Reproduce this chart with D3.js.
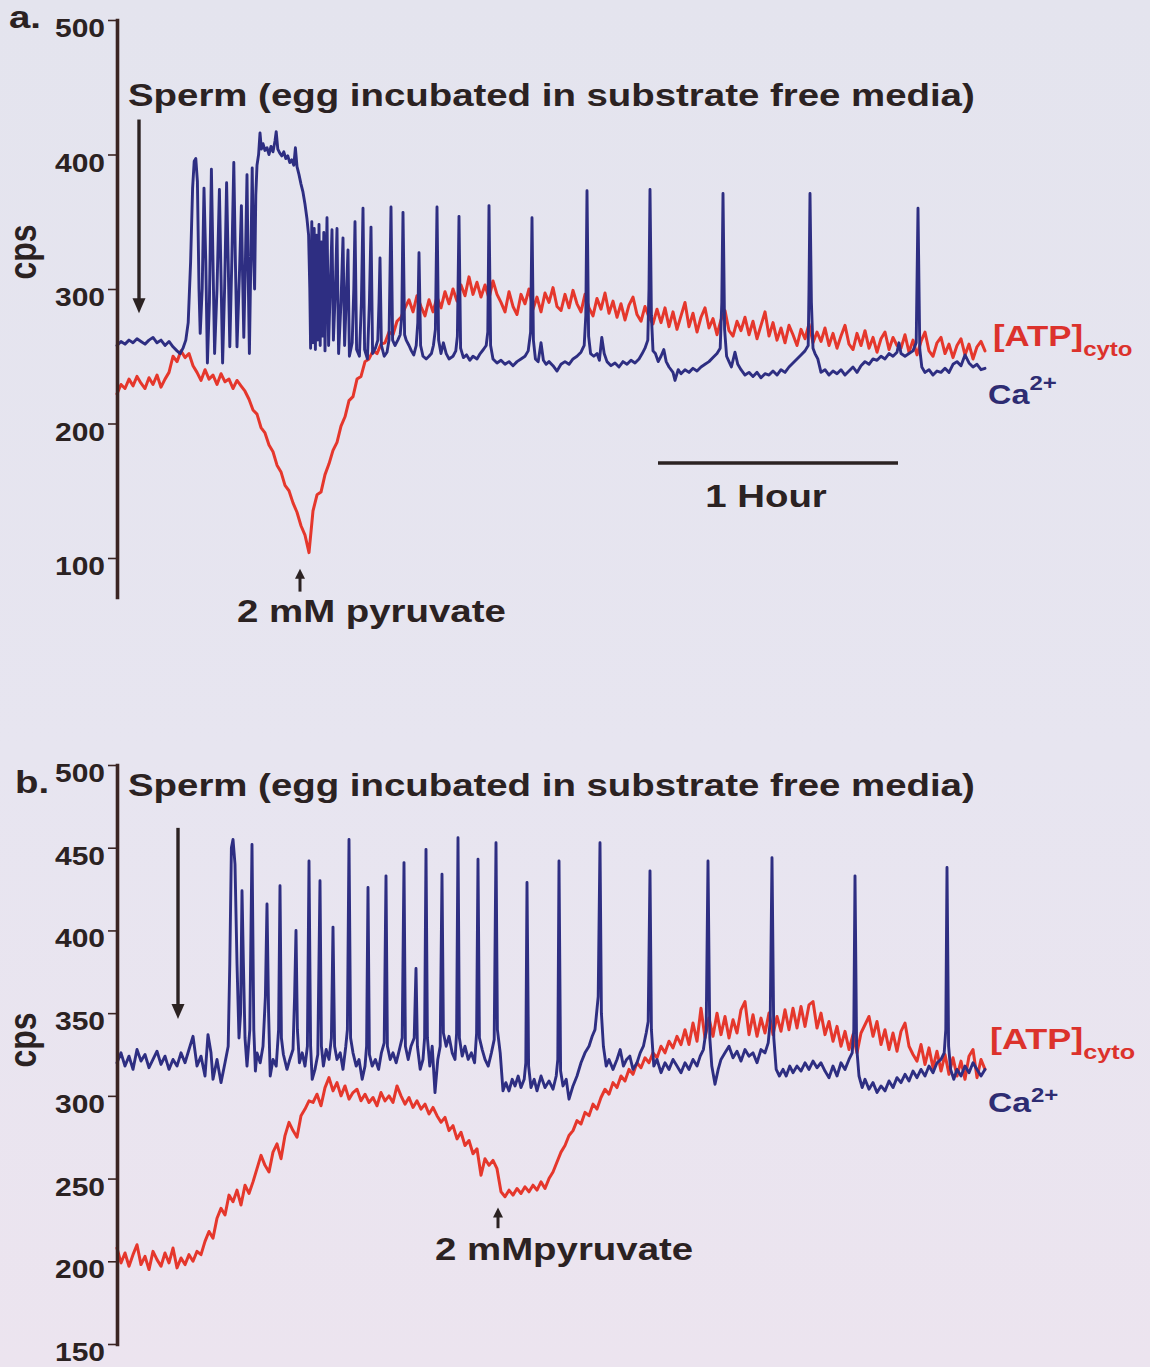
<!DOCTYPE html>
<html>
<head>
<meta charset="utf-8">
<script src="https://cdn.jsdelivr.net/npm/d3@7"></script>
<style>
  html, body { margin: 0; padding: 0; background: #e5e4ef; }
  svg { display: block; }
</style>
</head>
<body>
<svg id="fig" width="1150" height="1367"></svg>
<script>
// ---------------------------------------------------------------
// Luminescence (cps) traces, time in minutes from the start of recording
// ---------------------------------------------------------------

// Panel a: cytosolic ATP, one reading per minute
const atpA = [
  222,229,226,233,228,235,230,226,234,229,236,227,233,
  238,250,246,254,249,252,243,
  238,232,240,233,236,229,237,231,233,226,232,228,
  224,
  218,210,207,197,193,184,179,169,164,154,150,141,134,124,117,
  104,
  135,147,149,162,170,180,186,198,205,217,220,233,235,246,248,254,252,259,260,268,266,276,
  279,286,292,283,295,287,280,292,283,294,286,298,289,300,291,303,295,309,296,305,294,303,293,306,296,
  290,283,298,287,281,296,289,300,285,294,283,297,290,301,287,284,296,286,299,289,
  283,296,286,280,293,285,297,282,291,279,289,277,288,294,281,276,287,279,274,285,
  275,286,272,283,270,280,290,272,282,268,279,286,271,278,266,277,284,269,265,276,
  269,279,266,276,263,273,283,265,275,262,271,260,273,266,258,270,263,274,260,268,
  261,271,258,267,256,265,273,259,255,267,258,269,256,264,253,263,268,255,264,258,
  256,266,253,262,251,261,268,254,250,260,264,252,259,249,258,263,251,259,248,257,261,254
];

// Panel a: Ca2+ as [minute, cps] (denser around each transient)
const caA = [
  [0,258],[1,261],[2,259],[3,262],[4,260],[5,263],[6,261],[7,259],[8,262],[9,264],[10,260],[11,262],
  [12,258],[13,261],[14,257],[15,254],[15.8,252],[16.5,256],[17.2,262],[17.8,275],[18.4,320],[18.9,375],
  [19.3,395],[19.7,397],[20.1,380],[20.5,300],[20.8,267],[21.3,300],[21.75,375],[22.2,320],[22.6,245],
  [23.1,290],[23.6,389],[24,320],[24.4,252],[25,300],[25.6,374],[26,310],[26.4,245],[26.9,300],[27.4,379],
  [27.8,320],[28.2,257],[28.7,320],[29.2,394],[29.6,320],[30,257],[30.6,310],[31.1,362],[31.4,310],
  [31.7,264],[32.1,320],[32.5,385],[32.8,310],[33.1,252],[33.5,330],[33.8,390],[34.1,330],[34.4,300],
  [34.7,370],[35,392],[35.4,400],[35.75,416],[36.1,404],[36.5,408],[37,403],[37.5,405],[38,400],[38.5,406],
  [39,402],[39.5,410],[39.8,417],[40.2,404],[40.7,401],[41.2,399],[41.7,402],[42.2,397],[42.7,399],
  [43.2,394],[43.7,396],[44.2,392],[44.6,405],[45,391],[45.5,385],[46,378],[46.5,372],[47,363],[47.5,352],
  [47.9,340],[48.2,300],[48.4,256],[48.7,350],[49,260],[49.3,345],[49.6,255],[49.9,340],[50.2,262],
  [50.5,348],[50.8,258],[51.1,335],[51.4,265],[51.7,342],[52,254],[52.5,353],[52.9,258],[53.3,300],
  [53.75,344],[54.1,262],[54.6,300],[55,345],[55.4,252],[56,290],[56.5,338],[56.9,258],[57.4,300],
  [57.75,329],[58.1,250],[58.8,260],[59.2,300],[59.5,350],[59.9,255],[60.6,250],[61.1,290],[61.5,360],
  [61.9,255],[62.6,248],[63.1,290],[63.5,346],[63.9,252],[64.6,256],[65.2,262],[65.5,290],[65.75,323],
  [66.1,258],[66.8,250],[67.5,253],[68,262],[68.5,361],[68.9,262],[69.5,258],[70.2,262],[70.8,266],
  [71.2,280],[71.5,357],[71.9,266],[72.3,262],[73,258],[73.6,254],[74.2,251],[74.8,258],[75.2,275],
  [75.5,327],[75.9,258],[76.5,250],[77.3,248],[78,250],[78.6,252],[79.1,258],[79.6,270],[80,361],
  [80.4,262],[81,252],[81.6,260],[82.3,252],[83,248],[84,250],[84.7,254],[85.1,265],[85.5,354],[85.9,256],
  [86.6,249],[87.4,251],[88.2,247],[89,250],[90,248],[90.8,252],[91.6,255],[92.3,258],[92.7,268],[93,362],
  [93.4,258],[94,248],[95,245],[96,247],[97,244],[98,246],[99,243],[100,246],[101,248],[102,250],
  [102.8,254],[103.4,268],[103.75,353],[104.1,262],[104.6,248],[105.3,246],[106,260],[106.6,247],
  [107.3,244],[108,246],[109,243],[110,239],[111,244],[112,246],[113,244],[114,248],[115,250],[116,253],
  [116.8,258],[117.2,280],[117.5,373],[117.9,265],[118.4,252],[119.2,250],[120,252],[120.6,247],
  [121.2,264],[121.8,252],[122.5,246],[123.5,243],[124.5,245],[125.5,242],[126.5,246],[127.5,244],
  [128.5,247],[129.5,245],[130.5,248],[131.3,252],[132,256],[132.7,262],[133,300],[133.25,374],
  [133.6,280],[134,254],[134.6,252],[135.3,246],[136,250],[136.7,255],[137.3,246],[138,242],[139,238],
  [139.5,232],[140.3,240],[141,237],[142,240],[143,238],[144,241],[145,239],[146,242],[147,244],[148,246],
  [149,249],[150,252],[150.8,256],[151.2,290],[151.5,371],[151.9,270],[152.4,250],[153,246],[153.6,242],
  [154.5,253],[155.2,244],[156,240],[157,236],[158,238],[159,235],[160,238],[161,234],[162,237],[163,236],
  [164,239],[165,236],[166,240],[167,238],[168,242],[169,245],[170,248],[171,251],[172,254],[172.8,258],
  [173,300],[173.25,371],[173.6,290],[174,256],[174.5,252],[175.2,248],[176,238],[177,240],[178,236],
  [179,239],[180,237],[181,240],[182,236],[183,239],[184,242],[185,238],[186,243],[187,246],[188,244],
  [189,248],[190,247],[191,250],[192,248],[193,252],[194,250],[195,253],[195.5,260],[196,252],[197,250],
  [198,252],[199,254],[199.8,260],[200.25,360],[200.7,255],[201.2,242],[202,238],[203,240],[204,236],
  [205,239],[206,238],[207,241],[208,238],[209,244],[210,246],[211,243],[212,251],[213,245],[214,242],
  [215,244],[216,240],[217,241]
];

// Panel b: cytosolic ATP, one reading per minute
const atpB = [
  208,199,205,197,204,210,198,203,195,206,201,197,205,199,208,196,202,198,204,
  200,206,204,212,218,214,226,232,228,240,236,243,234,246,241,248,256,264,258,254,
  266,271,262,276,284,279,275,288,292,297,
  296,301,294,305,311,303,308,300,306,298,302,304,297,301,296,299,294,302,297,300,
  296,306,300,295,299,293,297,292,295,289,293,288,
  284,287,279,282,274,278,270,273,265,268,252,262,258,261,256,242,239,243,240,244,
  241,245,242,246,243,248,244,250,254,260,266,
  270,276,279,285,283,290,288,295,292,299,304,301,308,305,312,309,316,313,320,317,
  323,320,326,323,330,326,333,329,336,331,
  340,331,344,333,353,335,347,336,350,337,
  348,335,346,338,352,357,337,349,336,347,
  338,350,337,348,339,352,340,353,341,354,
  342,355,357,341,350,337,345,333,342,330,
  339,328,337,326,338,343,348,336,345,331,
  340,328,338,327,339,344,330,325,321,331,
  319,329,317,327,315,325,313,323,312,321,
  310,324,328,311,322,316
];

// Panel b: Ca2+ as [minute, cps]
const caB = [
  [0,320],[1,326],[2,318],[3,324],[4,316],[5,328],[6,321],[7,325],[8,317],[9,322],[10,327],[11,319],
  [12,324],[13,316],[14,322],[15,318],[16,326],[17,320],[18,328],[19,336],[20,318],[21,324],[22,312],
  [22.75,337],[23.5,326],[24,310],[25,322],[26,308],[27,320],[27.8,330],
  [28.2,380],[28.6,450],[29,455],[29.5,440],[30,380],[30.5,335],[30.9,350],[31.25,424],[31.6,380],
  [32,335],[32.5,318],[33.2,340],[33.75,452],[34.2,340],[34.6,315],[35,326],[35.8,320],[36.5,330],
  [37.1,360],[37.5,416],[37.9,350],[38.3,312],[39,322],[39.8,318],[40.4,340],[40.75,427],[41.1,335],
  [41.6,325],[42.5,316],[43.2,322],[44,328],[44.4,360],[44.75,400],[45.1,340],[45.6,320],[46.3,326],
  [47,318],[47.6,330],[48,442],[48.4,330],[48.8,310],[49.5,316],[50.2,325],[50.75,430],[51.1,330],
  [51.6,318],[52.3,328],[53,322],[53.6,335],[54,402],[54.4,330],[55,322],[55.8,326],[56.5,316],
  [57.2,330],[57.6,340],[58,455],[58.4,335],[59,326],[59.8,318],[60.5,322],[61.3,310],[62,318],
  [62.4,330],[62.75,426],[63.1,325],[63.8,318],[64.6,322],[65.4,316],[66.1,326],[66.8,332],[67.25,433],
  [67.6,330],[68.3,322],[69,326],[69.8,320],[70.6,328],[71.3,335],[71.75,441],[72.1,330],[72.8,322],
  [73.5,330],[74.3,335],[74.75,377],[75.1,330],[75.8,316],[76.5,322],[76.9,335],[77.25,449],[77.6,335],
  [78.2,318],[78.8,330],[79.5,302],[80.2,322],[80.8,330],[81.25,434],[81.6,338],[82.3,330],[83,336],
  [83.8,326],[84.5,322],[84.9,338],[85.25,456],[85.6,335],[86.3,324],[87,330],[87.8,322],[88.6,326],
  [89.4,320],[89.9,338],[90.25,443],[90.6,335],[91.3,328],[92,322],[92.8,318],[93.6,326],[94.3,334],
  [94.75,453],[95.1,340],[95.8,326],[96.5,303],[97.2,308],[98,303],[98.8,310],[99.5,306],[100.3,312],
  [101,305],[101.8,310],[102.2,320],[102.5,429],[102.9,318],[103.5,305],[104.3,310],[105,303],[106,312],
  [107,305],[108,309],[109,304],[109.8,312],[110.2,322],[110.5,442],[110.9,315],[111.5,306],[112.3,310],
  [113,298],[114,306],[115,312],[116,320],[117,326],[118,330],[118.8,336],[119.5,340],[120.3,360],
  [120.75,453],[121.1,350],[121.6,330],[122.3,318],[123,322],[124,316],[125,322],[125.8,328],[126.6,318],
  [127.4,322],[128.2,324],[129,316],[130,320],[130.8,326],[131.6,330],[132.3,338],[132.8,345],
  [133.25,436],[133.6,340],[134.2,318],[135,322],[136,314],[137,320],[138,316],[139,322],[140,318],
  [141,314],[142,320],[143,316],[144,322],[145,318],[145.8,324],[146.6,328],[147.3,340],[147.75,442],
  [148.2,335],[148.7,318],[149.5,307],[150.3,316],[151,322],[152,326],[153,330],[154,323],[155,327],
  [156,321],[157,328],[158,324],[159,326],[160,320],[161,328],[162,326],[162.8,332],[163.3,345],
  [163.75,444],[164.2,335],[164.8,316],[165.6,312],[166.5,316],[167.3,312],[168.2,318],[169,314],
  [170,318],[171,315],[172,320],[173,316],[174,321],[175,317],[176,320],[177,315],[178,311],[179,318],
  [180,312],[181,320],[182,316],[183,322],[183.8,326],[184.2,340],[184.5,433],[184.9,330],[185.5,312],
  [186.3,305],[187,310],[188,304],[189,308],[190,302],[191,306],[192,303],[193,309],[194,305],[195,311],
  [196,308],[197,313],[198,309],[199,315],[200,311],[201,316],[202,312],[203,318],[204,314],[205,320],
  [206,322],[206.8,326],[207.2,340],[207.5,438],[207.9,330],[208.4,316],[209.2,310],[210,316],[211,312],
  [212,318],[213,314],[214,320],[215,316],[216,312],[217,316]
];

// Axis tick values
const ticksA = [100, 200, 300, 400, 500];
const ticksB = [150, 200, 250, 300, 350, 400, 450, 500];

// Text
const titleText = "Sperm (egg incubated in substrate free media)";
const yLabel = "cps";
const scaleBarText = "1 Hour";
const scaleBarMinutes = 60;

// ---------------------------------------------------------------
// Drawing
// ---------------------------------------------------------------
const FONT = '"Liberation Sans", Arial, Helvetica, sans-serif';
const SX = 1.2;                // lettering is set slightly wide
const INK = "#2b2222";
const RED = "#e5372c";
const BLUE = "#2e2e82";
const RED_LABEL = "#dc322c";
const BLUE_LABEL = "#2e2c72";

const svg = d3.select("#fig");
const defs = svg.append("defs");
const grad = defs.append("linearGradient").attr("id", "paper")
  .attr("x1", 0).attr("y1", 0).attr("x2", 0).attr("y2", 1);
grad.append("stop").attr("offset", "0%").attr("stop-color", "#e4e4ee");
grad.append("stop").attr("offset", "55%").attr("stop-color", "#e7e5f0");
grad.append("stop").attr("offset", "100%").attr("stop-color", "#ece4ef");
svg.append("rect").attr("width", 1150).attr("height", 1367).attr("fill", "url(#paper)");

const x = d3.scaleLinear().domain([0, 217]).range([117, 985]);

// wide-set text helper: anchor point (px, py), horizontal stretch SX
function label(parent, px, py, size, anchor, fill) {
  const g = parent.append("g").attr("transform", `translate(${px},${py}) scale(${SX},1)`);
  return g.append("text")
    .attr("font-family", FONT).attr("font-weight", "bold")
    .attr("font-size", size).attr("text-anchor", anchor).attr("fill", fill);
}

function arrow(parent, px, y1, y2, width, head, halfW) {
  // shaft from y1 to the tip at y2
  const dir = Math.sign(y2 - y1);
  parent.append("line")
    .attr("x1", px).attr("x2", px).attr("y1", y1).attr("y2", y2 - dir * head * 0.8)
    .attr("stroke", INK).attr("stroke-width", width);
  parent.append("path")
    .attr("d", `M${px},${y2} L${px - halfW},${y2 - dir * head} L${px + halfW},${y2 - dir * head} Z`)
    .attr("fill", INK);
}

const panels = [
  {
    letter: "a.", letterPos: [9, 28], ticks: ticksA,
    yDomain: [71, 500], yRange: [597, 20],
    atp: atpA, ca: caA,
    titlePos: [128, 106], cpsPos: [36, 252],
    sperm: { t: 5.5, from: 426, to: 282 },
    pyr: { t: 45.75, from: 75, to: 92, text: "2 mM pyruvate", pos: [237, 622] },
    atpLabel: [993, 346, 29, 20, 10], caLabel: [988, 404, 27, 20, -14],
    scaleBar: { t0: 135.25, v: 170.6, text: [766, 507] }
  },
  {
    letter: "b.", letterPos: [15, 793], ticks: ticksB,
    yDomain: [150, 500], yRange: [1344, 765],
    atp: atpB, ca: caB,
    titlePos: [128, 796], cpsPos: [36, 1040],
    sperm: { t: 15.25, from: 462, to: 346.5 },
    pyr: { t: 95.25, from: 220, to: 232.5, text: "2 mMpyruvate", pos: [435, 1260] },
    atpLabel: [990, 1049, 30, 21, 10], caLabel: [988, 1112, 28, 20, -10],
    scaleBar: null
  }
];

panels.forEach(p => {
  const g = svg.append("g");
  const y = d3.scaleLinear().domain(p.yDomain).range(p.yRange);

  // traces: ATP beneath, Ca2+ on top
  const line = d3.line().x(d => x(d[0])).y(d => y(d[1]));
  g.append("path")
    .datum(p.atp.map((v, i) => [i, v]))
    .attr("d", line).attr("fill", "none")
    .attr("stroke", RED).attr("stroke-width", 3)
    .attr("stroke-linejoin", "round").attr("stroke-linecap", "round");
  g.append("path")
    .datum(p.ca)
    .attr("d", line).attr("fill", "none")
    .attr("stroke", BLUE).attr("stroke-width", 2.9)
    .attr("stroke-linejoin", "round").attr("stroke-linecap", "round");

  // y axis
  const axis = d3.axisLeft(y).tickValues(p.ticks).tickSize(9).tickSizeOuter(0)
    .tickFormat(d3.format("d"));
  const ag = g.append("g").attr("transform", "translate(117,0)").call(axis);
  ag.attr("font-family", FONT).attr("font-size", 25).attr("font-weight", "bold");
  ag.select(".domain").attr("stroke", "#3a2422").attr("stroke-width", 3.6)
    .attr("stroke-linecap", "square");
  ag.selectAll(".tick line").attr("stroke", "#3a2422").attr("stroke-width", 1.6);
  ag.selectAll(".tick text")
    .attr("fill", INK).attr("x", -12 / SX).attr("dy", null).attr("y", 16.5)
    .attr("transform", `scale(${SX},1)`);

  // panel letter, y label, title
  label(g, p.letterPos[0], p.letterPos[1], 32, "start", INK).text(p.letter);
  svg.append("g")
    .attr("transform", `translate(${p.cpsPos[0]},${p.cpsPos[1]}) scale(${SX},1) rotate(-90)`)
    .append("text").attr("font-family", FONT).attr("font-weight", "bold")
    .attr("font-size", 32).attr("text-anchor", "middle").attr("fill", INK).text(yLabel);
  label(g, p.titlePos[0], p.titlePos[1], 32, "start", INK).text(titleText);

  // sperm addition arrow
  arrow(g, x(p.sperm.t), y(p.sperm.from), y(p.sperm.to), 3.4, 15, 6.5);

  // pyruvate addition arrow and label
  arrow(g, x(p.pyr.t), y(p.pyr.from), y(p.pyr.to), 3, 10, 5);
  label(g, p.pyr.pos[0], p.pyr.pos[1], 32, "start", INK).text(p.pyr.text);

  // trace labels
  const [ax, ay, as, ss, sdy] = p.atpLabel;
  const t1 = label(g, ax, ay, as, "start", RED_LABEL);
  t1.append("tspan").text("[ATP]");
  t1.append("tspan").attr("font-size", ss).attr("dy", sdy).text("cyto");
  const [cx, cy, cs, cs2, cdy] = p.caLabel;
  const t2 = label(g, cx, cy, cs, "start", BLUE_LABEL);
  t2.append("tspan").text("Ca");
  t2.append("tspan").attr("font-size", cs2).attr("dy", cdy).text("2+");

  // time scale bar
  if (p.scaleBar) {
    const sb = p.scaleBar;
    g.append("line")
      .attr("x1", x(sb.t0)).attr("x2", x(sb.t0 + scaleBarMinutes))
      .attr("y1", y(sb.v)).attr("y2", y(sb.v))
      .attr("stroke", INK).attr("stroke-width", 3.4);
    label(g, sb.text[0], sb.text[1], 32, "middle", INK).text(scaleBarText);
  }
});
</script>
</body>
</html>
